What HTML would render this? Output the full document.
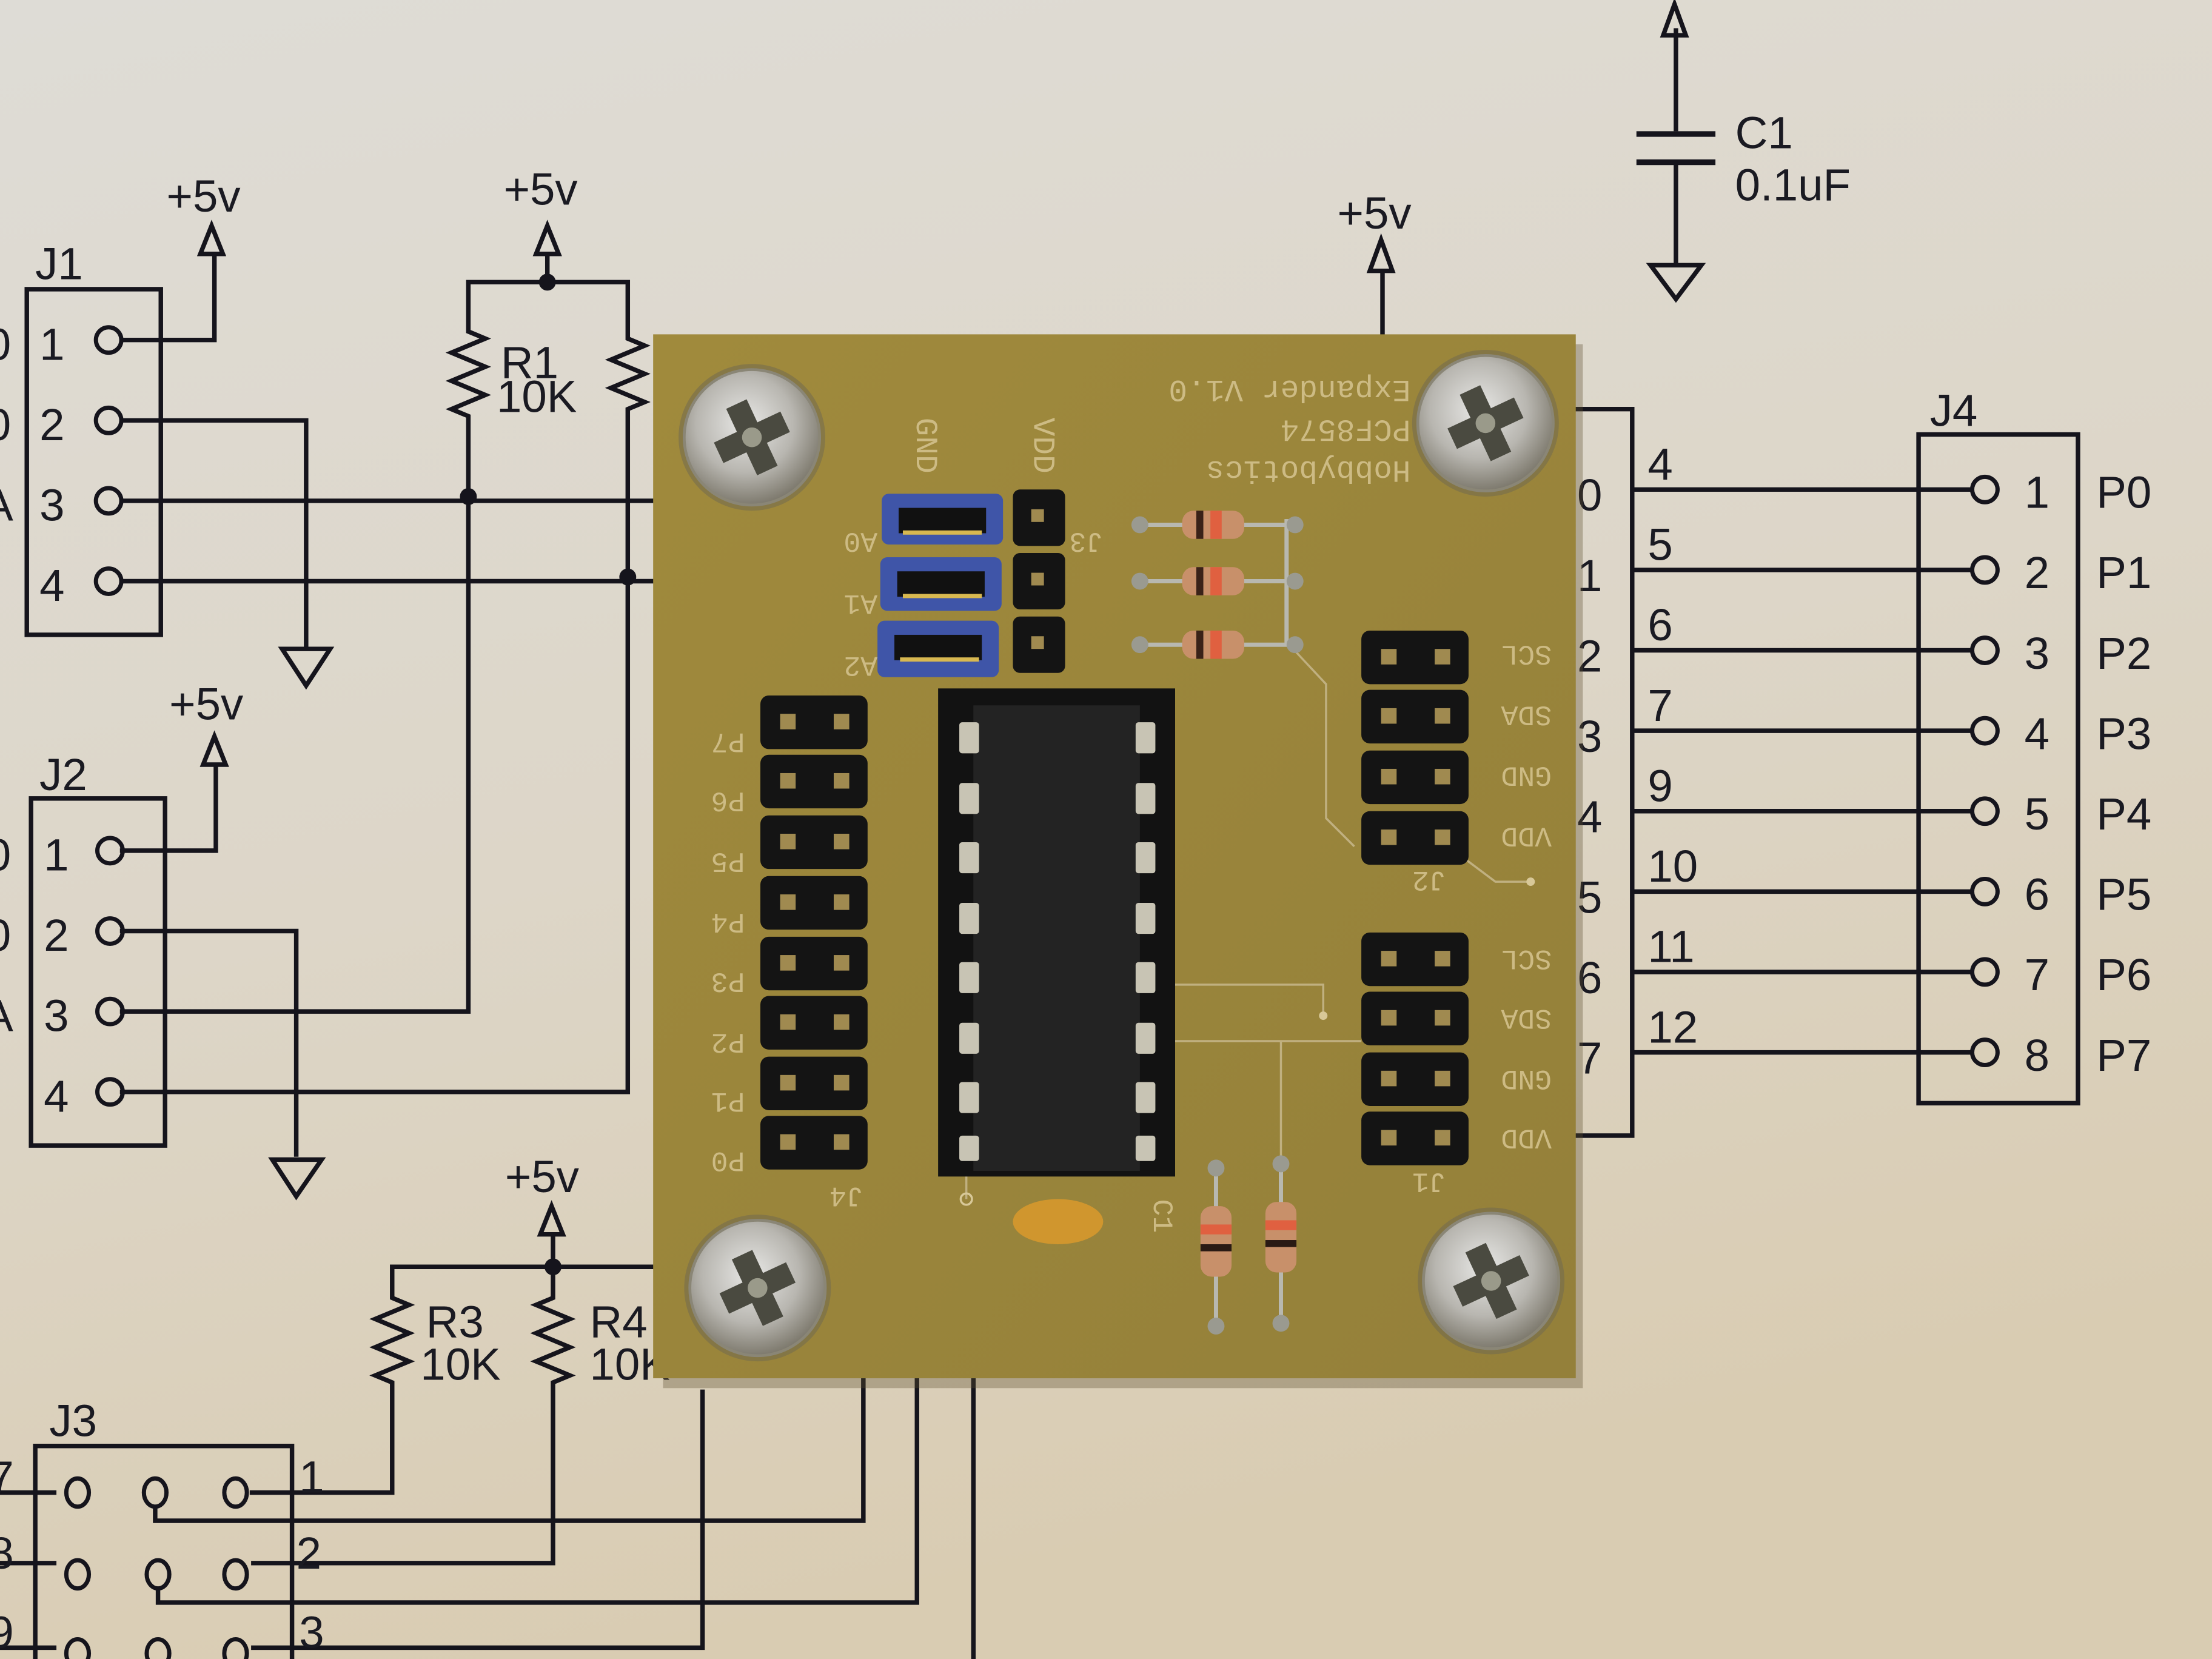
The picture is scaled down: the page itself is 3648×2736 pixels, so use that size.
<!DOCTYPE html>
<html><head><meta charset="utf-8"><style>
html,body{margin:0;padding:0;width:3648px;height:2736px;overflow:hidden;background:#ddd8cc}
svg{display:block}
.t{font-family:"Liberation Sans",sans-serif;fill:#1a1a22}
.w{stroke:#15141c;stroke-width:3.2;fill:none;stroke-linejoin:miter}
.pc{font-family:"Liberation Mono",monospace;fill:#cdbb84}
</style></head><body>
<svg width="3648" height="2736" viewBox="0 0 1568 1176" xmlns="http://www.w3.org/2000/svg">
<defs>
<linearGradient id="bg" x1="0" y1="0" x2="0.3" y2="1">
<stop offset="0" stop-color="#dedcd6"/><stop offset="0.55" stop-color="#ddd6c8"/><stop offset="1" stop-color="#d9ccb2"/></linearGradient>
<linearGradient id="pcb" x1="0" y1="0" x2="1" y2="1">
<stop offset="0" stop-color="#a08a3c"/><stop offset="1" stop-color="#94803a"/></linearGradient>
<radialGradient id="scr" cx="0.45" cy="0.4" r="0.6">
<stop offset="0" stop-color="#e8e8e6"/><stop offset="0.6" stop-color="#b8b6b0"/><stop offset="1" stop-color="#7e7a6e"/></radialGradient>
<g id="screw"><circle r="52" fill="#6e6852" opacity="0.5"/><circle r="48" fill="url(#scr)" stroke="#8a8676" stroke-width="2"/>
<path d="M-8,-26 h16 v18 h18 v16 h-18 v18 h-16 v-18 h-18 v-16 h18z" fill="#4a4a40" transform="rotate(-25)"/><circle r="7" fill="#9a9a8a"/></g>
<g id="hrow"><rect x="-38" y="-19" width="76" height="38" rx="6" fill="#141414"/><rect x="-24" y="-6" width="11" height="11" fill="#a08a50"/><rect x="14" y="-6" width="11" height="11" fill="#a08a50"/></g>
<g id="pin"><circle r="9" fill="none" stroke="#15141c" stroke-width="3"/></g>
</defs>
<rect width="1568" height="1176" fill="url(#bg)"/>

<!-- J1 -->
<g class="w">
<rect x="19" y="205" width="95" height="245"/>
<path d="M85,241 H152 V180"/><path d="M142,180 L150,160 L158,180 Z"/>
<path d="M85,298 H217 V460"/><path d="M200,460 H234 L217,486 Z"/>
<path d="M85,355 H470"/><path d="M85,412 H470"/>
<path d="M332,352 V295 l-12,-5 24,-10 -24,-10 24,-10 -24,-10 24,-10 -12,-5 V200 H445 V240 l12,5 -24,10 24,10 -24,10 24,10 -12,5 V412"/>
<path d="M388,200 V180"/><path d="M380,180 L388,160 L396,180 Z"/>
</g>
<circle cx="332" cy="352" r="6" fill="#15141c"/><circle cx="445" cy="409" r="6" fill="#15141c"/><circle cx="388" cy="200" r="6" fill="#15141c"/>
<use href="#pin" x="77" y="241"/><use href="#pin" x="77" y="298"/><use href="#pin" x="77" y="355"/><use href="#pin" x="77" y="412"/>
<g class="t" font-size="32"><text x="25" y="198">J1</text><text x="28" y="255">1</text><text x="28" y="312">2</text><text x="28" y="369">3</text><text x="28" y="426">4</text>
<text x="118" y="150">+5v</text><text x="357" y="145">+5v</text><text x="355" y="268">R1</text><text x="352" y="292">10K</text>
<text x="-10" y="255">0</text><text x="-10" y="312">0</text><text x="-12" y="369">A</text></g>

<!-- J2 -->
<g class="w">
<rect x="22" y="566" width="95" height="246"/>
<path d="M85,603 H153 V542"/><path d="M144,542 L152,522 L160,542 Z"/>
<path d="M85,660 H210 V820"/><path d="M193,822 H228 L210,848 Z"/>
<path d="M85,717 H332 V352"/><path d="M85,774 H445 V409"/>
</g>
<use href="#pin" x="78" y="603"/><use href="#pin" x="78" y="660"/><use href="#pin" x="78" y="717"/><use href="#pin" x="78" y="774"/>
<g class="t" font-size="32"><text x="28" y="560">J2</text><text x="31" y="617">1</text><text x="31" y="674">2</text><text x="31" y="731">3</text><text x="31" y="788">4</text>
<text x="120" y="510">+5v</text><text x="-10" y="617">0</text><text x="-10" y="674">0</text><text x="-12" y="731">A</text></g>

<!-- J3 / R3 R4 -->
<g class="w">
<rect x="25" y="1025" width="182" height="170"/>
<path d="M177,1058 H278 V980 l-12,-5 24,-10 -24,-10 24,-10 -24,-10 24,-10 -12,-5 V898 H392 V920 l-12,5 24,10 -24,10 24,10 -24,10 24,10 -12,5 V1108 H178"/>
<path d="M392,898 H500"/>
<path d="M110,1068 V1078 H612 V975"/><path d="M112,1125 V1136 H650 V975"/>
<path d="M178,1168 H498 V985"/><path d="M690,975 V1176"/>
<path d="M0,1058 H40"/><path d="M0,1108 H40"/><path d="M0,1168 H40"/>
<path d="M392,898 V875"/><path d="M383,875 L391,855 L399,875 Z"/>
</g>
<circle cx="392" cy="898" r="6" fill="#15141c"/>
<g fill="none" stroke="#15141c" stroke-width="3"><ellipse cx="55" cy="1058" rx="8" ry="10"/><ellipse cx="110" cy="1058" rx="8" ry="10"/><ellipse cx="167" cy="1058" rx="8" ry="10"/>
<ellipse cx="55" cy="1116" rx="8" ry="10"/><ellipse cx="112" cy="1116" rx="8" ry="10"/><ellipse cx="167" cy="1116" rx="8" ry="10"/>
<ellipse cx="55" cy="1172" rx="8" ry="10"/><ellipse cx="112" cy="1172" rx="8" ry="10"/><ellipse cx="167" cy="1172" rx="8" ry="10"/></g>
<g class="t" font-size="32"><text x="35" y="1018">J3</text><text x="212" y="1058">1</text><text x="210" y="1112">2</text><text x="212" y="1168">3</text>
<text x="-8" y="1058">7</text><text x="-8" y="1112">8</text><text x="-8" y="1168">9</text>
<text x="358" y="845">+5v</text><text x="302" y="948">R3</text><text x="298" y="978">10K</text><text x="418" y="948">R4</text><text x="418" y="978">10K</text></g>

<!-- C1 and +5v -->
<g class="w">
<path d="M1188,20 V93"/><path d="M1179,25 L1187,3 L1195,25 Z"/>
<path d="M1160,95 H1216" stroke-width="4"/><path d="M1160,115 H1216" stroke-width="4"/>
<path d="M1188,115 V188"/><path d="M1170,188 H1206 L1188,212 Z"/>
<path d="M980,192 V240"/><path d="M971,192 L979,170 L987,192 Z"/>
</g>
<g class="t" font-size="32"><text x="948" y="162">+5v</text><text x="1230" y="105">C1</text><text x="1230" y="142">0.1uF</text></g>

<!-- J4 -->
<g class="w">
<rect x="1360" y="308" width="113" height="474"/>
<path d="M1110,290 H1157 V805 H1110"/>
<path d="M1157,347 H1398"/><path d="M1157,404 H1398"/><path d="M1157,461 H1398"/><path d="M1157,518 H1398"/>
<path d="M1157,575 H1398"/><path d="M1157,632 H1398"/><path d="M1157,689 H1398"/><path d="M1157,746 H1398"/>
</g>
<g><use href="#pin" x="1407" y="347"/><use href="#pin" x="1407" y="404"/><use href="#pin" x="1407" y="461"/><use href="#pin" x="1407" y="518"/>
<use href="#pin" x="1407" y="575"/><use href="#pin" x="1407" y="632"/><use href="#pin" x="1407" y="689"/><use href="#pin" x="1407" y="746"/></g>
<g class="t" font-size="32"><text x="1368" y="302">J4</text>
<text x="1435" y="360">1</text><text x="1435" y="417">2</text><text x="1435" y="474">3</text><text x="1435" y="531">4</text><text x="1435" y="588">5</text><text x="1435" y="645">6</text><text x="1435" y="702">7</text><text x="1435" y="759">8</text>
<text x="1486" y="360">P0</text><text x="1486" y="417">P1</text><text x="1486" y="474">P2</text><text x="1486" y="531">P3</text><text x="1486" y="588">P4</text><text x="1486" y="645">P5</text><text x="1486" y="702">P6</text><text x="1486" y="759">P7</text>
<text x="1168" y="340">4</text><text x="1168" y="397">5</text><text x="1168" y="454">6</text><text x="1168" y="511">7</text><text x="1168" y="568">9</text><text x="1168" y="625">10</text><text x="1168" y="682">11</text><text x="1168" y="739">12</text>
<text x="1118" y="362">0</text><text x="1118" y="419">1</text><text x="1118" y="476">2</text><text x="1118" y="533">3</text><text x="1118" y="590">4</text><text x="1118" y="647">5</text><text x="1118" y="704">6</text><text x="1118" y="761">7</text></g>

<!-- PCB -->
<rect x="470" y="244" width="652" height="740" fill="#5e5030" opacity="0.35"/>
<rect x="463" y="237" width="654" height="740" fill="url(#pcb)"/>
<use href="#screw" x="533" y="310"/><use href="#screw" x="1053" y="300"/><use href="#screw" x="537" y="913"/><use href="#screw" x="1057" y="908"/>

<g class="pc" font-size="22">
<text transform="translate(1000,270) rotate(180)">Expander V1.0</text>
<text transform="translate(1000,298) rotate(180)">PCF8574</text>
<text transform="translate(1000,327) rotate(180)">Hobbybotics</text>
<text transform="translate(650,296) rotate(90)">GND</text>
<text transform="translate(733,296) rotate(90)">VDD</text>
<text transform="translate(622,378) rotate(180)" font-size="20">A0</text>
<text transform="translate(622,422) rotate(180)" font-size="20">A1</text>
<text transform="translate(622,466) rotate(180)" font-size="20">A2</text>
<text transform="translate(782,378) rotate(180)" font-size="20">J3</text>
</g>
<g class="pc" font-size="20">
<text transform="translate(528,520) rotate(180)">P7</text><text transform="translate(528,562) rotate(180)">P6</text>
<text transform="translate(528,605) rotate(180)">P5</text><text transform="translate(528,648) rotate(180)">P4</text>
<text transform="translate(528,690) rotate(180)">P3</text><text transform="translate(528,733) rotate(180)">P2</text>
<text transform="translate(528,775) rotate(180)">P1</text><text transform="translate(528,817) rotate(180)">P0</text>
<text transform="translate(612,842) rotate(180)">J4</text>
<text transform="translate(1100,458) rotate(180)">SCL</text><text transform="translate(1100,501) rotate(180)">SDA</text>
<text transform="translate(1100,544) rotate(180)">GND</text><text transform="translate(1100,587) rotate(180)">VDD</text>
<text transform="translate(1100,674) rotate(180)">SCL</text><text transform="translate(1100,716) rotate(180)">SDA</text>
<text transform="translate(1100,759) rotate(180)">GND</text><text transform="translate(1100,801) rotate(180)">VDD</text>
<text transform="translate(1025,618) rotate(180)">J2</text><text transform="translate(1025,832) rotate(180)">J1</text>
<text transform="translate(818,850) rotate(90)">C1</text>
</g>

<!-- traces -->
<g stroke="#c0b080" stroke-width="1.5" fill="none">
<path d="M912,368 V455 L940,485 V580 L960,600"/><path d="M1040,610 L1060,625 H1085"/>
<path d="M833,698 H938 V718"/><path d="M833,738 H965"/><path d="M908,738 V825"/><path d="M685,832 V850"/>
</g>
<circle cx="1085" cy="625" r="3" fill="#d8c898"/><circle cx="938" cy="720" r="3" fill="#d8c898"/><circle cx="685" cy="850" r="4" fill="none" stroke="#d8c898" stroke-width="1.5"/>

<!-- J4 headers -->
<g><use href="#hrow" x="577" y="512"/><use href="#hrow" x="577" y="554"/><use href="#hrow" x="577" y="597"/><use href="#hrow" x="577" y="640"/>
<use href="#hrow" x="577" y="683"/><use href="#hrow" x="577" y="725"/><use href="#hrow" x="577" y="768"/><use href="#hrow" x="577" y="810"/>
<use href="#hrow" x="1003" y="466"/><use href="#hrow" x="1003" y="508"/><use href="#hrow" x="1003" y="551"/><use href="#hrow" x="1003" y="594"/>
<use href="#hrow" x="1003" y="680"/><use href="#hrow" x="1003" y="722"/><use href="#hrow" x="1003" y="765"/><use href="#hrow" x="1003" y="807"/></g>

<!-- IC -->
<rect x="665" y="488" width="168" height="346" fill="#121212"/>
<rect x="690" y="500" width="118" height="330" fill="#232323"/>
<g fill="#c8c4b4">
<rect x="680" y="512" width="14" height="22" rx="2"/><rect x="680" y="555" width="14" height="22" rx="2"/><rect x="680" y="597" width="14" height="22" rx="2"/><rect x="680" y="640" width="14" height="22" rx="2"/>
<rect x="680" y="682" width="14" height="22" rx="2"/><rect x="680" y="725" width="14" height="22" rx="2"/><rect x="680" y="767" width="14" height="22" rx="2"/><rect x="680" y="805" width="14" height="18" rx="2"/>
<rect x="805" y="512" width="14" height="22" rx="2"/><rect x="805" y="555" width="14" height="22" rx="2"/><rect x="805" y="597" width="14" height="22" rx="2"/><rect x="805" y="640" width="14" height="22" rx="2"/>
<rect x="805" y="682" width="14" height="22" rx="2"/><rect x="805" y="725" width="14" height="22" rx="2"/><rect x="805" y="767" width="14" height="22" rx="2"/><rect x="805" y="805" width="14" height="18" rx="2"/>
</g>

<!-- jumpers -->
<g><rect x="625" y="350" width="86" height="36" rx="5" fill="#3f55a8"/><rect x="637" y="360" width="62" height="18" fill="#111"/><rect x="640" y="376" width="56" height="3" fill="#d8b850"/>
<rect x="624" y="395" width="86" height="38" rx="5" fill="#3f55a8"/><rect x="636" y="405" width="62" height="18" fill="#111"/><rect x="640" y="421" width="56" height="3" fill="#d8b850"/>
<rect x="622" y="440" width="86" height="40" rx="5" fill="#3f55a8"/><rect x="634" y="450" width="62" height="18" fill="#111"/><rect x="638" y="466" width="56" height="3" fill="#d8b850"/>
<rect x="718" y="347" width="37" height="40" rx="5" fill="#141414"/><rect x="718" y="392" width="37" height="40" rx="5" fill="#141414"/><rect x="718" y="437" width="37" height="40" rx="5" fill="#141414"/>
<rect x="731" y="361" width="9" height="9" fill="#a08a50"/><rect x="731" y="406" width="9" height="9" fill="#a08a50"/><rect x="731" y="451" width="9" height="9" fill="#a08a50"/></g>

<!-- resistors -->
<g stroke="#b8b8b0" stroke-width="3"><path d="M808,372 H918"/><path d="M808,412 H918"/><path d="M808,457 H918"/><path d="M912,368 V458"/>
<path d="M862,830 V940"/><path d="M908,825 V938"/></g>
<g><rect x="838" y="362" width="44" height="20" rx="8" fill="#c8906a"/><rect x="848" y="362" width="5" height="20" fill="#3a2218"/><rect x="858" y="362" width="8" height="20" fill="#e06040"/>
<rect x="838" y="402" width="44" height="20" rx="8" fill="#c8906a"/><rect x="848" y="402" width="5" height="20" fill="#3a2218"/><rect x="858" y="402" width="8" height="20" fill="#e06040"/>
<rect x="838" y="447" width="44" height="20" rx="8" fill="#c8906a"/><rect x="848" y="447" width="5" height="20" fill="#3a2218"/><rect x="858" y="447" width="8" height="20" fill="#e06040"/>
<rect x="851" y="855" width="22" height="50" rx="8" fill="#c8906a"/><rect x="851" y="868" width="22" height="7" fill="#e06040"/><rect x="851" y="882" width="22" height="5" fill="#2a1a14"/>
<rect x="897" y="852" width="22" height="50" rx="8" fill="#c8906a"/><rect x="897" y="865" width="22" height="7" fill="#e06040"/><rect x="897" y="879" width="22" height="5" fill="#2a1a14"/></g>
<g fill="#9a9a90"><circle cx="808" cy="372" r="6"/><circle cx="808" cy="412" r="6"/><circle cx="808" cy="457" r="6"/><circle cx="918" cy="372" r="6"/><circle cx="918" cy="412" r="6"/><circle cx="918" cy="457" r="6"/>
<circle cx="862" cy="828" r="6"/><circle cx="908" cy="825" r="6"/><circle cx="862" cy="940" r="6"/><circle cx="908" cy="938" r="6"/></g>
<ellipse cx="750" cy="866" rx="32" ry="16" fill="#d0962e"/>
</svg>
</body></html>
